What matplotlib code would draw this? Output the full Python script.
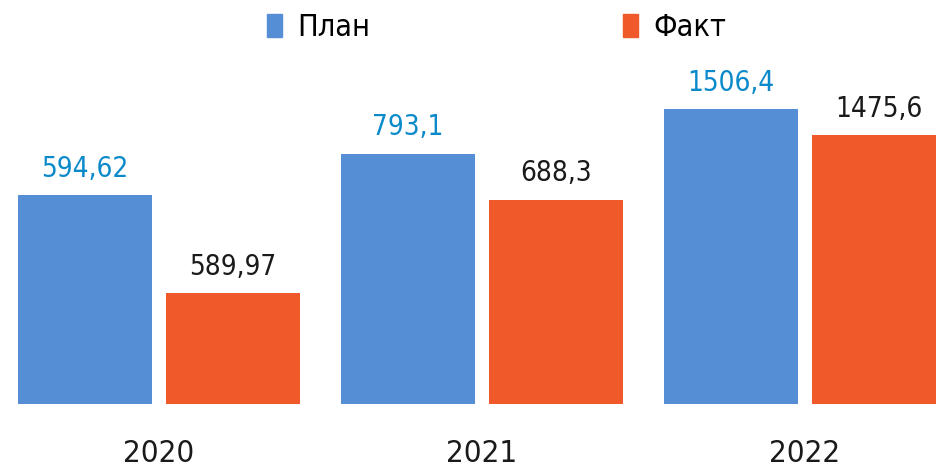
import numpy as np
import matplotlib.pyplot as plt
from matplotlib.patches import Patch

plt.rcParams['font.family'] = ['DejaVu Sans']
plt.rcParams['font.stretch'] = 'condensed'

years = ["2020", "2021", "2022"]
plan_labels = ["594,62", "793,1", "1506,4"]
fact_labels = ["589,97", "688,3", "1475,6"]
# bar heights as drawn in the picture (not to scale with the labels)
plan_heights = [209, 250, 295]
fact_heights = [111, 204, 269]

blue = "#558ed5"
orange = "#f05a2a"
label_blue = "#0b8acb"

fig = plt.figure(figsize=(9.37, 4.70), dpi=100)
ax = fig.add_axes([0, 1 - 404 / 470, 1, 404 / 470])

x = np.arange(len(years))
w = 134 / 323
off = 74 / 323

b1 = ax.bar(x - off, plan_heights, w, color=blue)
b2 = ax.bar(x + off, fact_heights, w, color=orange)

for rect, lab in zip(b1, plan_labels):
    ax.annotate(lab, (rect.get_x() + rect.get_width() / 2, rect.get_height()),
                xytext=(0, 9), textcoords="offset points", ha="center", va="bottom",
                fontsize=20, color=label_blue)
for rect, lab in zip(b2, fact_labels):
    ax.annotate(lab, (rect.get_x() + rect.get_width() / 2, rect.get_height()),
                xytext=(0, 9), textcoords="offset points", ha="center", va="bottom",
                fontsize=20, color="#1a1a1a")

ax.set_xlim(-159 / 323, (937 - 159) / 323)
ax.set_ylim(0, 404)
ax.set_xticks(x)
ax.set_xticklabels(years, fontsize=22.5, color="#1a1a1a")
ax.tick_params(axis="x", length=0, pad=25)
ax.set_yticks([])
for s in ax.spines.values():
    s.set_visible(False)

handles = [Patch(color=blue, label="План"), Patch(color=orange, label="Факт")]
fig.legend(handles=handles, loc="upper center", bbox_to_anchor=(0.53, 1.03), ncol=2,
           frameon=False, fontsize=22, handlelength=0.49, handleheight=0.8,
           handletextpad=0.49, columnspacing=8.3)

fig.savefig("out.png", dpi=100)
